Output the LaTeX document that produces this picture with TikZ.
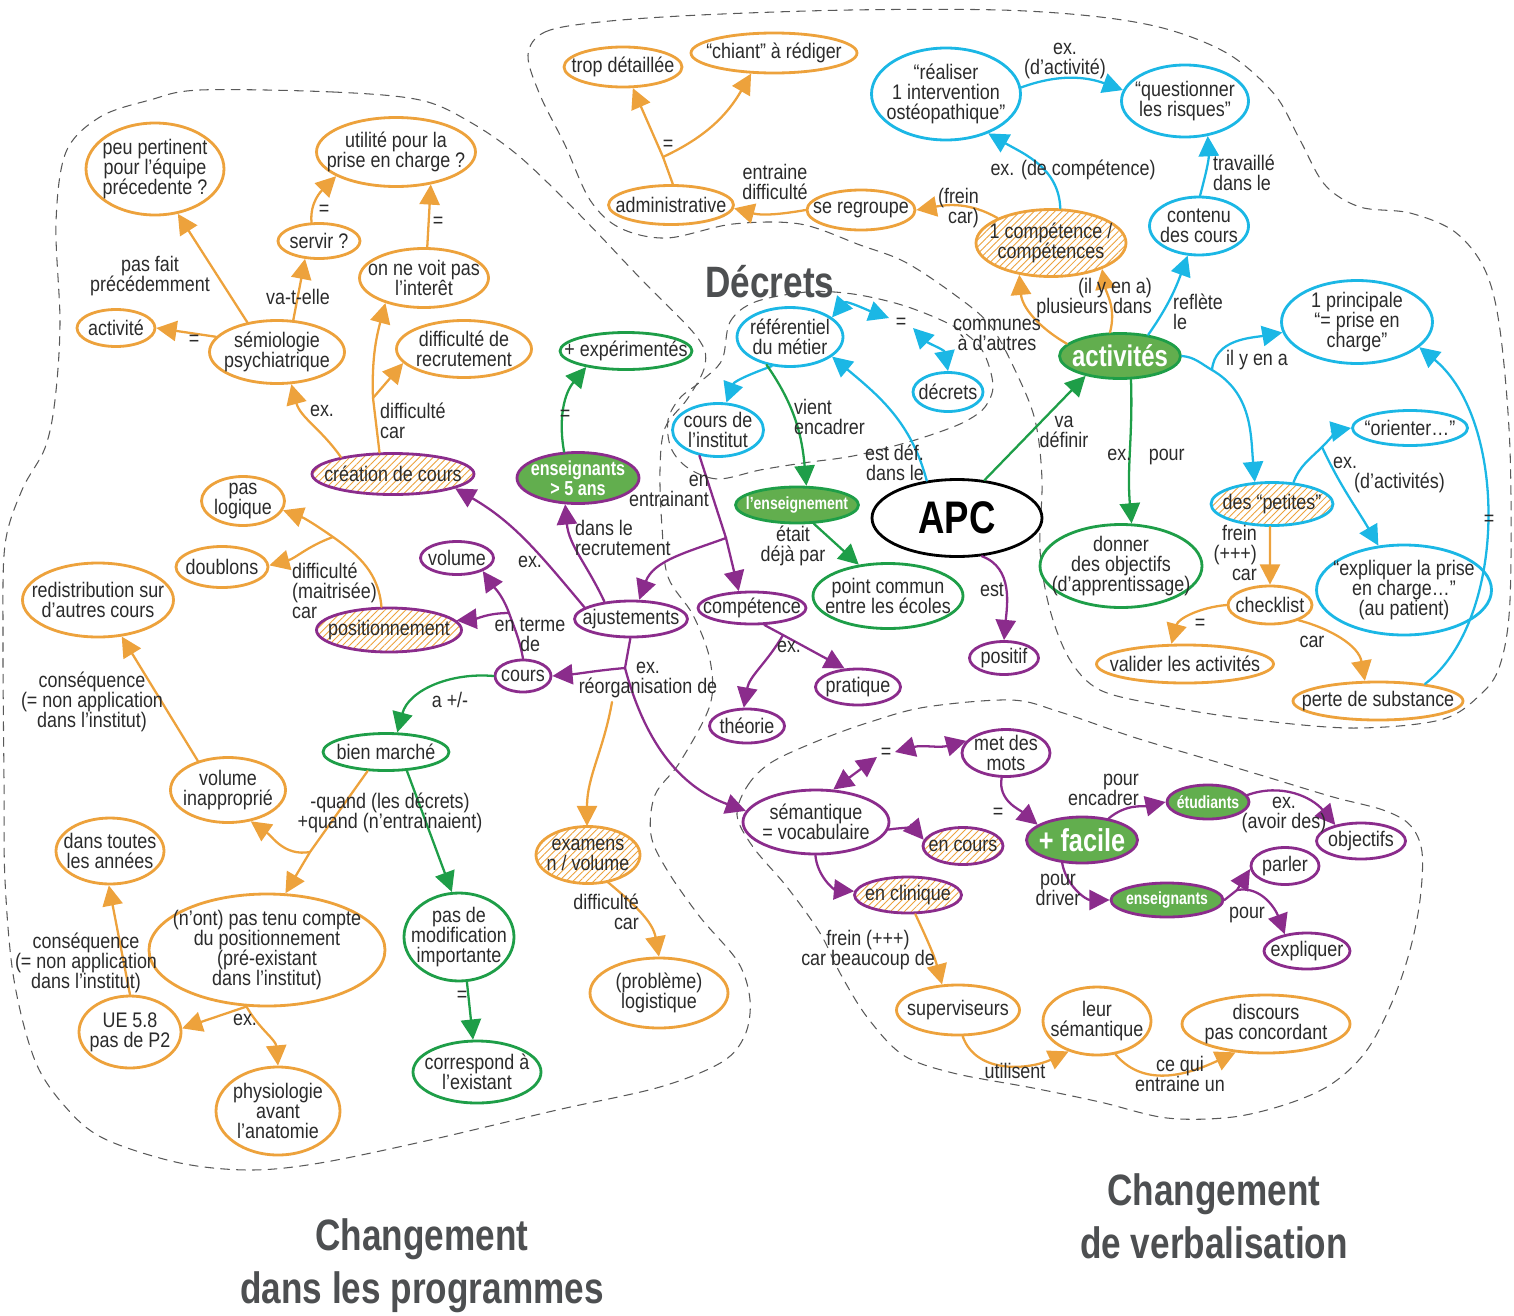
\documentclass[tikz,border=0pt]{standalone}
\usepackage{fontspec}
\setmainfont{Liberation Sans}[FakeStretch=0.85]
\newfontfamily\headfont{Liberation Sans}[FakeStretch=0.8]
\usetikzlibrary{arrows.meta, shapes.geometric, patterns.meta}

\definecolor{orng}{HTML}{EDA23C}
\definecolor{cyn}{HTML}{1BB7E5}
\definecolor{grn}{HTML}{1E9E48}
\definecolor{gfill}{HTML}{62AE4E}
\definecolor{purp}{HTML}{8B2C8C}
\definecolor{ink}{HTML}{2B2B2B}
\definecolor{headgray}{HTML}{4D4F51}

\tikzset{
  sz/.style 2 args={minimum width=#1*0.02cm, minimum height=#2*0.02cm},
  concept/.style={ellipse, draw, line width=1.6pt, fill=white, inner sep=0pt},
  oconcept/.style={concept, draw=orng},
  bconcept/.style={concept, draw=cyn},
  gconcept/.style={concept, draw=grn},
  pconcept/.style={concept, draw=purp},
  hatched/.style={preaction={fill=white}, pattern={Lines[angle=45, distance=2.8pt, line width=0.5pt]}, pattern color=orng},
  wtext/.style={text=white, font=\headfont\bfseries\fontsize{#1}{#1}\selectfont},
  wtext/.default=10,
  linkword/.style={align=center, inner sep=1pt},
  link/.style={line width=1.3pt, -{Triangle[length=11.5pt, width=11.5pt]}},
  stem/.style={line width=1.3pt},
  twoway/.style={line width=1.3pt, {Triangle[length=11.5pt, width=11.5pt]}-{Triangle[length=11.5pt, width=11.5pt]}},
  zone/.style={draw=black!65, line width=0.6pt, dash pattern=on 5pt off 4pt},
  heading/.style={align=center, text=headgray, font=\headfont\bfseries\fontsize{25}{30}\selectfont}
}

\begin{document}
\begin{tikzpicture}[x=0.02cm, y=-0.02cm, line cap=round, line join=round,
  font=\fontsize{12}{11.5}\selectfont, text=ink,
  every label/.style={align=center, inner sep=0pt}]
\useasboundingbox (0,0) rectangle (1514,1315);

%--- zones
\draw[zone] plot[smooth cycle, tension=0.55] coordinates {(200,90) (333,92) (420,100) (470,122) (520,157) (580,215) (640,278) (697,337) (705,365) (688,398) (665,428) (660,470) (662,527) (668,577) (693,615) (710,660) (710,705) (680,762) (655,795) (651,835) (667,870) (700,917) (738,962) (750,1000) (745,1035) (722,1062) (660,1087) (557,1110) (430,1140) (320,1163) (250,1170) (180,1163) (107,1140) (70,1112) (36,1063) (14,980) (5,880) (4,780) (3,640) (5,545) (22,490) (45,448) (55,400) (60,323) (56,223) (66,152) (100,117) (150,100)};
\draw[zone] plot[smooth cycle, tension=0.55] coordinates {(528,55) (545,32) (600,22) (700,15) (850,10) (1000,10) (1100,17) (1170,30) (1230,55) (1275,95) (1300,140) (1325,185) (1360,207) (1410,213) (1455,232) (1485,270) (1500,330) (1510,450) (1510,600) (1500,665) (1480,695) (1440,720) (1350,728) (1240,718) (1160,705) (1100,690) (1070,660) (1050,610) (1040,550) (1042,480) (1035,420) (1015,370) (990,325) (955,295) (905,262) (860,245) (800,224) (733,224) (667,238) (620,228) (590,200) (565,145) (540,95)};
\draw[zone] plot[smooth cycle, tension=0.55] coordinates {(722,360) (730,322) (755,302) (807,292) (853,294) (905,306) (955,327) (982,350) (993,385) (985,407) (968,420) (945,430) (905,443) (853,456) (803,463) (760,470) (718,479) (688,468) (671,448) (668,420) (680,398) (700,382)};
\draw[zone] plot[smooth cycle, tension=0.55] coordinates {(737,815) (748,785) (772,762) (820,740) (870,722) (926,707) (1011,700) (1060,712) (1133,737) (1200,757) (1267,777) (1333,797) (1383,810) (1410,825) (1422,852) (1420,900) (1410,950) (1393,1000) (1367,1050) (1333,1083) (1290,1103) (1233,1117) (1167,1118) (1100,1102) (1033,1088) (953,1073) (903,1055) (867,1017) (840,973) (820,933) (787,887) (753,847)};

%--- headings
\node[heading] (hdecrets) at (770,282) {Décrets};
\node[heading] (hprog) at (422,1266) {Changement\\dans les programmes};
\node[heading] (hverb) at (1214,1216) {Changement\\de verbalisation};

%--- orange concepts
\node[oconcept, sz={138}{92}, label={center:peu pertinent\\pour l’équipe\\précedente ?}] (peu) at (155,169) {};
\node[oconcept, sz={159}{69}, label={center:utilité pour la\\prise en charge ?}] (utilite) at (396,152) {};
\node[oconcept, sz={82}{35}, label={center:servir ?}] (servir) at (319,241) {};
\node[oconcept, sz={129}{59}, label={center:on ne voit pas\\l’interêt}] (nevoit) at (424,278) {};
\node[oconcept, sz={78}{37}, label={center:activité}] (activite) at (116,328) {};
\node[oconcept, sz={135}{63}, label={center:sémiologie\\psychiatrique}] (semio) at (277,352) {};
\node[oconcept, sz={135}{57}, label={center:difficulté de\\recrutement}] (recrut) at (464,349) {};
\node[oconcept, sz={83}{49}, label={center:pas\\logique}] (paslog) at (243,501) {};
\node[oconcept, sz={92}{41}, label={center:doublons}] (doublons) at (222,567) {};
\node[oconcept, sz={151}{74}, label={center:redistribution sur\\d’autres cours}] (redis) at (98,600) {};
\node[oconcept, sz={115}{65}, label={center:volume\\inapproprié}] (volinap) at (228,790) {};
\node[oconcept, sz={108}{66}, label={center:dans toutes\\les années}] (danstoutes) at (110,851) {};
\node[oconcept, sz={236}{112}, label={center:(n’ont) pas tenu compte\\du positionnement\\(pré-existant\\dans l’institut)}] (nontenu) at (267,950) {};
\node[oconcept, sz={102}{72}, label={center:UE 5.8\\pas de P2}] (ue58) at (130,1032) {};
\node[oconcept, sz={124}{88}, label={center:physiologie\\avant\\l’anatomie}] (physio) at (278,1111) {};
\node[oconcept, sz={138}{70}, label={center:(problème)\\logistique}] (logist) at (659,993) {};
\node[oconcept, hatched, sz={104}{57}, label={center:examens\\n / volume}] (examens) at (588,855) {};
\node[oconcept, sz={118}{40}, label={center:trop détaillée}] (trop) at (623,67) {};
\node[oconcept, sz={166}{40}, label={center:“chiant” à rédiger}] (chiant) at (774,53) {};
\node[oconcept, sz={125}{39}, label={center:administrative}] (admin) at (671,205) {};
\node[oconcept, sz={108}{40}, label={center:se regroupe}] (regroupe) at (861,210) {};
\node[oconcept, hatched, sz={150}{67}, label={center:1 compétence /\\compétences}] (comp1) at (1051,243) {};
\node[oconcept, sz={84}{38}, label={center:checklist}] (checklist) at (1270,605) {};
\node[oconcept, sz={177}{38}, label={center:valider les activités}] (valider) at (1185,664) {};
\node[oconcept, sz={170}{38}, label={center:perte de substance}] (perte) at (1378,701) {};
\node[oconcept, sz={123}{50}, label={center:superviseurs}] (superv) at (958,1010) {};
\node[oconcept, sz={108}{68}, label={center:leur\\sémantique}] (leursem) at (1097,1021) {};
\node[oconcept, sz={168}{58}, label={center:discours\\pas concordant}] (discours) at (1266,1024) {};

%--- blue concepts
\node[bconcept, sz={149}{92}, label={center:“réaliser\\1 intervention\\ostéopathique”}] (realiser) at (946,94) {};
\node[bconcept, sz={127}{72}, label={center:“questionner\\les risques”}] (question) at (1185,101) {};
\node[bconcept, sz={99}{58}, label={center:contenu\\des cours}] (contenu) at (1199,226) {};
\node[bconcept, sz={151}{83}, label={center:1 principale\\“= prise en\\charge”}] (principale) at (1357,322) {};
\node[bconcept, sz={106}{59}, label={center:référentiel\\du métier}] (referentiel) at (790,337) {};
\node[bconcept, sz={70}{39}, label={center:décrets}] (decrets) at (948,392) {};
\node[bconcept, sz={91}{53}, label={center:cours de\\l’institut}] (coursinst) at (718,430) {};
\node[bconcept, hatched, sz={122}{43}, label={center:des “petites”}] (petites) at (1272,504) {};
\node[bconcept, sz={115}{35}, label={center:“orienter…”}] (orienter) at (1410,428) {};
\node[bconcept, sz={175}{90}, label={center:“expliquer la prise\\en charge…”\\(au patient)}] (expliquerpc) at (1404,590) {};

%--- green concepts
\node[gconcept, sz={132}{37}, label={center:+ expérimentés}] (experimentes) at (626,351) {};
\node[gconcept, sz={150}{65}, label={center:point commun\\entre les écoles}] (pointcommun) at (888,596) {};
\node[gconcept, sz={162}{83}, label={center:donner\\des objectifs\\(d’apprentissage)}] (donner) at (1121,566) {};
\node[gconcept, sz={126}{37}, label={center:bien marché}] (bienmarche) at (386,752) {};
\node[gconcept, sz={110}{88}, label={center:pas de\\modification\\importante}] (pasmodif) at (459,937) {};
\node[gconcept, sz={128}{62}, label={center:correspond à\\l’existant}] (correspond) at (477,1072) {};
\node[pconcept, fill=gfill, sz={122}{51}, label={[wtext=11.5]center:enseignants\\> 5 ans}] (enseignants5) at (578,478) {};
\node[gconcept, fill=gfill, sz={123}{36}, label={[wtext]center:l’enseignement}] (enseignement) at (797,505) {};
\node[gconcept, fill=gfill, sz={121}{45}, label={[wtext=17]center:activités}] (activites) at (1120,356) {};
\node[pconcept, fill=gfill, sz={111}{46}, label={[wtext=18]center:+ facile}] (facile) at (1082,840) {};
\node[pconcept, fill=gfill, sz={82}{34}, label={[wtext]center:étudiants}] (etudiants) at (1208,802) {};
\node[pconcept, fill=gfill, sz={112}{34}, label={[wtext]center:enseignants}] (enseignants) at (1167,900) {};

%--- purple concepts
\node[concept, draw=black, sz={170}{77}, label={[font=\headfont\bfseries\fontsize{26}{26}\selectfont, text=black]center:APC}] (APC) at (957,518) {};
\node[pconcept, hatched, sz={162}{41}, label={center:création de cours}] (creation) at (393,474) {};
\node[pconcept, hatched, sz={145}{44}, label={center:positionnement}] (position) at (389,630) {};
\node[pconcept, sz={73}{33}, label={center:volume}] (volume) at (457,558) {};
\node[pconcept, sz={113}{36}, label={center:ajustements}] (ajustements) at (631,619) {};
\node[pconcept, sz={108}{32}, label={center:compétence}] (competence) at (752,608) {};
\node[pconcept, sz={56}{32}, label={center:cours}] (cours) at (523,676) {};
\node[pconcept, sz={69}{33}, label={center:positif}] (positif) at (1004,658) {};
\node[pconcept, sz={85}{36}, label={center:pratique}] (pratique) at (858,687) {};
\node[pconcept, sz={75}{34}, label={center:théorie}] (theorie) at (747,726) {};
\node[pconcept, sz={146}{64}, label={center:sémantique\\= vocabulaire}] (semantique) at (816,822) {};
\node[pconcept, hatched, sz={80}{37}, label={center:en cours}] (encours) at (963,846) {};
\node[pconcept, hatched, sz={107}{36}, label={center:en clinique}] (enclinique) at (908,895) {};
\node[pconcept, sz={88}{47}, label={center:met des\\mots}] (metdes) at (1006,753) {};
\node[pconcept, sz={89}{36}, label={center:objectifs}] (objectifs) at (1361,841) {};
\node[pconcept, sz={68}{37}, label={center:parler}] (parler) at (1285,866) {};
\node[pconcept, sz={86}{36}, label={center:expliquer}] (expliquer) at (1307,951) {};

%--- branch points
\coordinate (j1) at (373,398);
\coordinate (j2) at (333,537);
\coordinate (j3) at (310,852);
\coordinate (j5) at (663,157);
\coordinate (j6) at (1212,370);
\coordinate (j7) at (1322,447);
\coordinate (j8) at (726,538);
\coordinate (j9) at (625,668);
\coordinate (j10) at (612,702);
\coordinate (j11) at (509,613);
\coordinate (j12) at (783,635);
\coordinate (j13) at (1237,890);
\coordinate (eqa) at (889,318);
\coordinate (eqb) at (913,328);
\coordinate (eqc) at (877,757);
\coordinate (eqd) at (895,752);

%--- orange links
\draw[link, orng] (semio.135) -- (peu.-63);
\draw[link, orng] (semio.166) -- (activite.0);
\draw[link, orng] (semio.63) -- (servir.-128);
\draw[link, orng] (servir.112) to[out=95, in=225] (utilite.202);
\draw[link, orng] (nevoit.84) -- (utilite.-43);
\draw[link, orng] (creation.162) to[out=125, in=-75] (semio.-66);
\draw[stem, orng] (creation.122) -- (j1);
\draw[link, orng] (j1) to[out=92, in=255] (nevoit.213);
\draw[link, orng] (j1) -- (recrut.193);
\draw[stem, orng] (position.108) to[out=95, in=-35] (j2);
\draw[link, orng] (j2) to[out=145, in=-20] (paslog.-13);
\draw[link, orng] (j2) to[out=200, in=15] (doublons.2);
\draw[link, orng] (volinap.136) -- (redis.-57);
\draw[stem, orng] (bienmarche.226) -- (j3);
\draw[link, orng] (j3) -- (nontenu.72);
\draw[link, orng] (j3) to[out=190, in=-35] (volinap.-54);
\draw[link, orng] (nontenu.250) -- (ue58.4);
\draw[link, orng] (nontenu.250) to[out=-60, in=95] (physio.90);
\draw[link, orng] (ue58.90) -- (danstoutes.-92);
\draw[link, orng] (examens.-54) to[out=-40, in=100] (logist.90);
\draw[link, orng] (j10) to[out=-100, in=90] (examens.92);
\draw[stem, orng] (admin.85) -- (j5);
\draw[link, orng] (j5) -- (trop.-65);
\draw[link, orng] (j5) to[out=25, in=240] (chiant.222);
\draw[link, orng] (regroupe.180) to[out=190, in=-15] (admin.-3);
\draw[link, orng] (comp1.155) to[out=150, in=10] (regroupe.0);
\draw[link, orng] (activites.167) to[out=150, in=-85] (comp1.225);
\draw[link, orng] (activites.113) to[out=75, in=-80] (comp1.-27);
\draw[link, orng] (petites.-95) -- (checklist.90);
\draw[link, orng] (checklist.180) to[out=185, in=75] (valider.124);
\draw[link, orng] (checklist.-28) to[out=-15, in=100] (perte.123);
\draw[link, orng] (enclinique.-69) to[out=-65, in=105] (superv.122);
\draw[link, orng] (superv.-80) to[out=-70, in=205] (leursem.227);
\draw[link, orng] (leursem.-61) to[out=-50, in=205] (discours.223);

%--- blue links
\draw[link, cyn] (comp1.75) to[out=92, in=-30] (realiser.-43);
\draw[link, cyn] (realiser.5) to[out=20, in=160] (question.170);
\draw[link, cyn] (contenu.88) to[out=75, in=-87] (question.-57);
\draw[link, cyn] (activites.37) to[out=55, in=-110] (contenu.249);
\draw[stem, cyn] (activites.0) to[out=-5, in=150] (j6);
\draw[link, cyn] (j6) to[out=-30, in=95] (petites.128);
\draw[link, cyn] (j6) to[out=85, in=190] (principale.188);
\draw[stem, cyn] (petites.45) to[out=70, in=225] (j7);
\draw[link, cyn] (j7) to[out=45, in=190] (orienter.180);
\draw[link, cyn] (j7) to[out=-65, in=120] (expliquerpc.120);
\draw[link, cyn] (perte.20) .. controls (1508,620) and (1508,420) .. (principale.-22);
\draw[link, cyn] (APC.129) to[out=105, in=-40] (referentiel.-25);
\draw[twoway, cyn] (referentiel.25) to[out=50, in=160] (eqa);
\draw[twoway, cyn] (eqb) to[out=-45, in=100] (decrets.90);
\draw[link, cyn] (referentiel.238) to[out=200, in=70] (coursinst.73);

%--- green links
\draw[link, grn] (enseignants5.118) to[out=100, in=230] (experimentes.202);
\draw[link, grn] (referentiel.230) to[out=-55, in=95] (enseignement.64);
\draw[link, grn] (enseignement.-48) -- (pointcommun.133);
\draw[link, grn] (APC.54) -- (activites.210);
\draw[link, grn] (activites.-65) to[out=-88, in=95] (donner.76);
\draw[link, grn] (cours.180) to[out=175, in=75] (bienmarche.60);
\draw[link, grn] (bienmarche.-42) -- (pasmodif.99);
\draw[link, grn] (pasmodif.-80) -- (correspond.97);

%--- purple links
\draw[link, purp] (APC.-57) to[out=-20, in=85] (positif.90);
\draw[stem, purp] (coursinst.234) -- (j8);
\draw[link, purp] (j8) -- (competence.128);
\draw[link, purp] (j8) to[out=200, in=70] (ajustements.67);
\draw[link, purp] (ajustements.147) to[out=115, in=-85] (enseignants5.244);
\draw[link, purp] (ajustements.166) to[out=130, in=-30] (creation.-13);
\draw[stem, purp] (ajustements.-92) -- (j9);
\draw[link, purp] (j9) to[out=185, in=5] (cours.0);
\draw[link, purp] (j9) to[out=-75, in=160] (semantique.171);
\draw[stem, purp] (cours.90) to[out=100, in=-70] (j11);
\draw[link, purp] (j11) to[out=110, in=-55] (volume.-27);
\draw[link, purp] (j11) to[out=180, in=5] (position.8);
\draw[stem, purp] (competence.-54) -- (j12);
\draw[link, purp] (j12) -- (pratique.126);
\draw[link, purp] (j12) to[out=-120, in=80] (theorie.100);
\draw[twoway, purp] (semantique.62) -- (eqc);
\draw[twoway, purp] (eqd) to[out=15, in=195] (metdes.163);
\draw[link, purp] (semantique.-6) to[out=10, in=130] (encours.171);
\draw[link, purp] (semantique.-91) to[out=-85, in=175] (enclinique.176);
\draw[link, purp] (metdes.-100) to[out=-100, in=140] (facile.161);
\draw[link, purp] (facile.39) to[out=40, in=192] (etudiants.180);
\draw[link, purp] (etudiants.10) to[out=20, in=130] (objectifs.148);
\draw[link, purp] (facile.229) to[out=-80, in=180] (enseignants.180);
\draw[stem, purp] (enseignants.0) -- (j13);
\draw[link, purp] (j13) -- (parler.185);
\draw[link, purp] (j13) to[out=10, in=110] (expliquer.143);

%--- linking words
\node[linkword] (lpasfait) at (150,276) {pas fait\\précédemment};
\node[linkword] (leq1) at (194,340) {=};
\node[linkword] (lvat) at (298,297) {va-t-elle};
\node[linkword] (leq2) at (324,210) {=};
\node[linkword] (leq3) at (438,222) {=};
\node[linkword] (lex1) at (322,411) {ex.};
\node[linkword, align=left, anchor=west] (ldiff1) at (378,421) {difficulté\\car};
\node[linkword, align=left, anchor=west] (ldiff2) at (290,591) {difficulté\\(maitrisée)\\car};
\node[linkword] (lconseq1) at (92,702) {conséquence\\(= non application\\dans l’institut)};
\node[linkword] (lconseq2) at (86,963) {conséquence\\(= non application\\dans l’institut)};
\node[linkword] (lquand) at (390,813) {-quand (les décrets)\\+quand (n’entrainaient)};
\node[linkword] (lex2) at (245,1020) {ex.};
\node[linkword] (lapm) at (450,700) {a +/-};
\node[linkword] (leq4) at (462,996) {=};
\node[linkword, align=right, anchor=east] (ldiff3) at (641,912) {difficulté\\car};
\node[linkword] (lreorg) at (648,680) {ex.\\réorganisation de};
\node[linkword] (lterme) at (530,635) {en terme\\de};
\node[linkword] (lex3) at (530,562) {ex.};
\node[linkword, align=left, anchor=west] (lrecrut) at (573,538) {dans le\\recrutement};
\node[linkword] (leq5) at (565,415) {=};
\node[linkword, align=right, anchor=east] (lentr) at (711,491) {en\\entrainant};
\node[linkword, align=left, anchor=west] (lvient) at (792,417) {vient\\encadrer};
\node[linkword] (letait) at (793,546) {était\\déjà par};
\node[linkword, align=right, anchor=east] (lestdef) at (926,463) {est déf.\\dans le};
\node[linkword] (lest) at (992,590) {est};
\node[linkword] (lex4) at (789,647) {ex.};
\node[linkword] (leq6) at (901,323) {=};
\node[linkword] (lcomm) at (997,335) {communes\\à d’autres};
\node[linkword, align=right, anchor=east] (lplus) at (1154,298) {(il y en a)\\plusieurs dans};
\node[linkword, align=left, anchor=west] (lreflete) at (1171,312) {reflète\\le};
\node[linkword, align=left, anchor=west] (ltrav) at (1211,173) {travaillé\\dans le};
\node[linkword] (lexact) at (1065,61) {ex.\\(d’activité)};
\node[linkword] (lexcomp) at (1073,170) {ex. (de compétence)};
\node[linkword, align=right, anchor=east] (lfrein1) at (981,208) {(frein\\car)};
\node[linkword] (lentraine) at (775,182) {entraine\\difficulté};
\node[linkword] (leq7) at (668,145) {=};
\node[linkword] (lva) at (1064,432) {va\\définir};
\node[linkword] (lexpour) at (1146,457) {ex.\hspace{10pt}pour};
\node[linkword] (lilya) at (1257,360) {il y en a};
\node[linkword, align=left, anchor=west] (lexacts) at (1331,475) {ex.\\\hspace*{12pt}(d’activités)};
\node[linkword, align=right, anchor=east] (lfrein2) at (1259,553) {frein\\(+++)\\car};
\node[linkword] (leq8) at (1200,624) {=};
\node[linkword] (lcar) at (1312,642) {car};
\node[linkword] (leq9) at (1489,520) {=};
\node[linkword] (leq10) at (886,753) {=};
\node[linkword] (leq11) at (998,813) {=};
\node[linkword] (lfrein3) at (868,950) {frein (+++)\\car beaucoup de};
\node[linkword, align=right, anchor=east] (lencadrer) at (1141,790) {pour\\encadrer};
\node[linkword] (lavoir) at (1284,815) {ex.\\(avoir des)};
\node[linkword] (ldriver) at (1058,890) {pour\\driver};
\node[linkword] (lpour) at (1247,915) {pour};
\node[linkword] (lutil) at (1015,1071) {utilisent};
\node[linkword] (lcequi) at (1180,1074) {ce qui\\entraine un};

\end{tikzpicture}
\end{document}
